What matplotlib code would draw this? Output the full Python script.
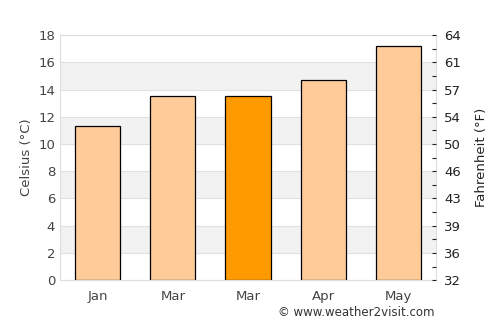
import matplotlib
matplotlib.use("Agg")
import matplotlib.pyplot as plt

months = ["Jan", "Mar", "Mar", "Apr", "May"]
celsius = [11.3, 13.5, 13.5, 14.7, 17.2]
highlight = [False, False, True, False, False]
c_ticks = [0, 2, 4, 6, 8, 10, 12, 14, 16, 18]
f_labels = ["32", "36", "39", "43", "46", "50", "54", "57", "61", "64"]

fig = plt.figure(figsize=(5, 3.25), dpi=100)
ax = fig.add_axes([0.12, 0.138, 0.752, 0.754])
ax.set_xlim(-0.5, len(months) - 0.5)
ax.set_ylim(0, 18)

for lo in [2, 6, 10, 14]:
    ax.axhspan(lo, lo + 2, color="#f2f2f2", zorder=0, lw=0)
for t in c_ticks:
    ax.axhline(t, color="#e0e0e0", lw=0.8, zorder=0.5)

colors = ["#ff9900" if h else "#ffcc99" for h in highlight]
ax.bar(range(len(months)), celsius, width=0.6, color=colors,
       edgecolor="black", linewidth=0.9, zorder=2)

ax.set_xticks(range(len(months)))
ax.set_xticklabels(months)
ax.set_yticks(c_ticks)
ax.tick_params(axis="both", colors="#444444", labelsize=9.5, length=0)
ax.tick_params(axis="x", pad=7)
for s in ax.spines.values():
    s.set_color("#dddddd")
ax.set_ylabel("Celsius (°C)", color="#444444", fontsize=9.5)

ax2 = ax.twinx()
ax2.set_ylim(0, 18)
ax2.set_yticks(c_ticks)
ax2.set_yticklabels(f_labels)
ax2.set_yticks(list(range(1, 18, 2)), minor=True)
ax2.tick_params(axis="y", which="both", colors="#222222", labelsize=9.5,
                length=3, width=0.8, direction="in", pad=6)
for s in ax2.spines.values():
    s.set_visible(False)
ax2.set_ylabel("Fahrenheit (°F)", color="#222222", fontsize=9.5, labelpad=10)

fig.text(0.87, 0.017, "© www.weather2visit.com", ha="right", va="bottom",
         fontsize=8.5, color="#333333")

fig.savefig("out.png", dpi=100)
